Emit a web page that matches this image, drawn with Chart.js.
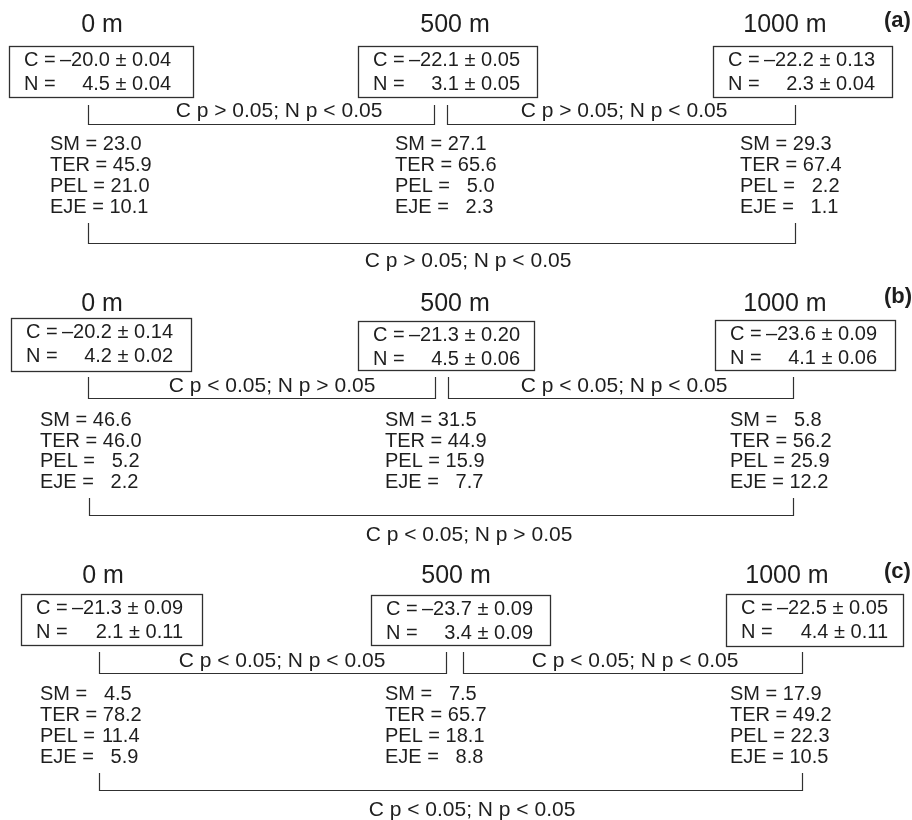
<!DOCTYPE html>
<html>
<head>
<meta charset="utf-8">
<title>Isotopes and diet shares by altitude</title>
<script src="https://cdn.jsdelivr.net/npm/chart.js@4/dist/chart.umd.min.js"></script>
<style>
  html, body { margin: 0; padding: 0; background: #ffffff; }
  #wrap { width: 912px; height: 820px; position: relative; }
</style>
</head>
<body>
<div id="wrap"><canvas id="chart"></canvas></div>
<script>
// ---- data -------------------------------------------------------------
const depthLabels = ['0 m', '500 m', '1000 m'];
const panelTags = ['(a)', '(b)', '(c)'];

// stable isotope means and standard errors per panel and altitude
const carbonMean   = [[-20.0, -22.1, -22.2], [-20.2, -21.3, -23.6], [-21.3, -23.7, -22.5]];
const carbonSE     = [[0.04, 0.05, 0.13],    [0.14, 0.20, 0.09],    [0.09, 0.09, 0.05]];
const nitrogenMean = [[4.5, 3.1, 2.3],       [4.2, 4.5, 4.1],       [2.1, 3.4, 4.4]];
const nitrogenSE   = [[0.04, 0.05, 0.04],    [0.02, 0.06, 0.06],    [0.11, 0.09, 0.11]];

// diet source shares (%) per panel and altitude
const smShare  = [[23.0, 27.1, 29.3], [46.6, 31.5, 5.8],  [4.5, 7.5, 17.9]];
const terShare = [[45.9, 65.6, 67.4], [46.0, 44.9, 56.2], [78.2, 65.7, 49.2]];
const pelShare = [[21.0, 5.0, 2.2],   [5.2, 15.9, 25.9],  [11.4, 18.1, 22.3]];
const ejeShare = [[10.1, 2.3, 1.1],   [2.2, 7.7, 12.2],   [5.9, 8.8, 10.5]];
const shareNames = ['SM', 'TER', 'PEL', 'EJE'];

// pairwise tests: [0 m vs 500 m, 500 m vs 1000 m, 0 m vs 1000 m]
const alpha = 0.05;
const carbonP   = [['>', '>', '>'], ['<', '<', '<'], ['<', '<', '<']];
const nitrogenP = [['<', '<', '<'], ['>', '<', '>'], ['<', '<', '<']];

// ---- layout (in scale units: x 0..912, y 0..820 top-down) --------------
const panelLayout = [
  {
    tagY: 27, headY: 32, headX: [102, 455, 785],
    boxes: [[9, 46, 184, 51], [358, 46, 179, 51], [713, 46, 179, 51]],
    pairs: [
      { x1: 88, x2: 434, top: 105, bot: 124, tx: 279, ty: 117 },
      { x1: 447, x2: 795, top: 105, bot: 124, tx: 624, ty: 117 }
    ],
    shareX: [50, 395, 740], shareY: 150, shareDy: 21,
    overall: { x1: 88, x2: 795, top: 223, bot: 243, tx: 468, ty: 267 }
  },
  {
    tagY: 303, headY: 311, headX: [102, 455, 785],
    boxes: [[11, 318, 180, 53], [358, 321, 176, 49], [715, 320, 180, 50]],
    pairs: [
      { x1: 88, x2: 435, top: 377, bot: 398, tx: 272, ty: 392 },
      { x1: 448, x2: 793, top: 377, bot: 398, tx: 624, ty: 392 }
    ],
    shareX: [40, 385, 730], shareY: 426, shareDy: 20.7,
    overall: { x1: 89, x2: 793, top: 498, bot: 515, tx: 469, ty: 541 }
  },
  {
    tagY: 578, headY: 583, headX: [103, 456, 787],
    boxes: [[21, 594, 181, 51], [371, 595, 179, 50], [726, 594, 177, 52]],
    pairs: [
      { x1: 99, x2: 446, top: 652, bot: 673, tx: 282, ty: 667 },
      { x1: 463, x2: 802, top: 652, bot: 673, tx: 635, ty: 667 }
    ],
    shareX: [40, 385, 730], shareY: 700, shareDy: 21,
    overall: { x1: 99, x2: 802, top: 773, bot: 790, tx: 472, ty: 816 }
  }
];

const FONT = "'Liberation Sans', Arial, Helvetica, sans-serif";
const INK = '#1e1e1e';
const LINE = '#303030';

const fmtC = v => (v < 0 ? '\u2013' : '') + Math.abs(v).toFixed(1);
const fmtSE = v => v.toFixed(2);
const fmtShare = v => v.toFixed(1);
const testText = (c, n) => 'C p ' + c + ' ' + alpha.toFixed(2) + '; N p ' + n + ' ' + alpha.toFixed(2);

// ---- drawing plugin -----------------------------------------------------
const diagramPlugin = {
  id: 'isotopeDiagram',
  afterDraw(chart) {
    const ctx = chart.ctx;
    const sx = chart.scales.x, sy = chart.scales.y;
    const X = v => sx.getPixelForValue(v);
    const Y = v => sy.getPixelForValue(v);

    const text = (str, x, y, font, align) => {
      ctx.font = font;
      ctx.textAlign = align || 'left';
      ctx.textBaseline = 'alphabetic';
      ctx.fillStyle = INK;
      ctx.fillText(str, X(x), Y(y));
    };
    const bracket = (b, label) => {
      ctx.beginPath();
      ctx.moveTo(Math.round(X(b.x1)) + 0.5, Y(b.top));
      ctx.lineTo(Math.round(X(b.x1)) + 0.5, Math.round(Y(b.bot)) + 0.5);
      ctx.lineTo(Math.round(X(b.x2)) + 0.5, Math.round(Y(b.bot)) + 0.5);
      ctx.lineTo(Math.round(X(b.x2)) + 0.5, Y(b.top));
      ctx.strokeStyle = LINE;
      ctx.lineWidth = 1.2;
      ctx.stroke();
      text(label, b.tx, b.ty, '21px ' + FONT, 'center');
    };

    ctx.save();
    panelLayout.forEach((L, p) => {
      // panel tag
      text(panelTags[p], 884, L.tagY, 'bold 22px ' + FONT, 'left');

      depthLabels.forEach((d, i) => {
        // altitude heading
        text(d, L.headX[i], L.headY, '25px ' + FONT, 'center');

        // isotope box
        const [bx, by, bw, bh] = L.boxes[i];
        ctx.strokeStyle = LINE;
        ctx.lineWidth = 1.3;
        ctx.strokeRect(Math.round(X(bx)) + 0.5, Math.round(Y(by)) + 0.5,
                       X(bx + bw) - X(bx), Y(by + bh) - Y(by));
        const f = '20px ' + FONT;
        text('C =', bx + 15, by + 20, f, 'left');
        text(fmtC(carbonMean[p][i]) + ' \u00b1 ' + fmtSE(carbonSE[p][i]), bx + 162, by + 20, f, 'right');
        text('N =', bx + 15, by + 44, f, 'left');
        text(fmtC(nitrogenMean[p][i]) + ' \u00b1 ' + fmtSE(nitrogenSE[p][i]), bx + 162, by + 44, f, 'right');

        // diet share block: one-digit values are padded to two-digit width
        const shares = [smShare[p][i], terShare[p][i], pelShare[p][i], ejeShare[p][i]];
        shares.forEach((v, k) => {
          const y = L.shareY + k * L.shareDy;
          const lead = shareNames[k] + ' = ';
          ctx.font = f;
          const right = L.shareX[i] + ctx.measureText(lead + '00.0').width;
          text(lead, L.shareX[i], y, f, 'left');
          text(fmtShare(v), right, y, f, 'right');
        });
      });

      // pairwise brackets between neighbouring altitudes
      L.pairs.forEach((b, k) => bracket(b, testText(carbonP[p][k], nitrogenP[p][k])));
      // 0 m vs 1000 m bracket
      bracket(L.overall, testText(carbonP[p][2], nitrogenP[p][2]));
    });
    ctx.restore();
  }
};

new Chart(document.getElementById('chart'), {
  type: 'scatter',
  data: { datasets: [{ data: [], pointRadius: 0 }] },
  options: {
    responsive: true,
    maintainAspectRatio: false,
    animation: false,
    layout: { padding: 0 },
    plugins: { legend: { display: false }, tooltip: { enabled: false } },
    scales: {
      x: { type: 'linear', min: 0, max: 912, display: false },
      y: { type: 'linear', min: 0, max: 820, reverse: true, display: false }
    }
  },
  plugins: [diagramPlugin]
});
</script>
</body>
</html>
